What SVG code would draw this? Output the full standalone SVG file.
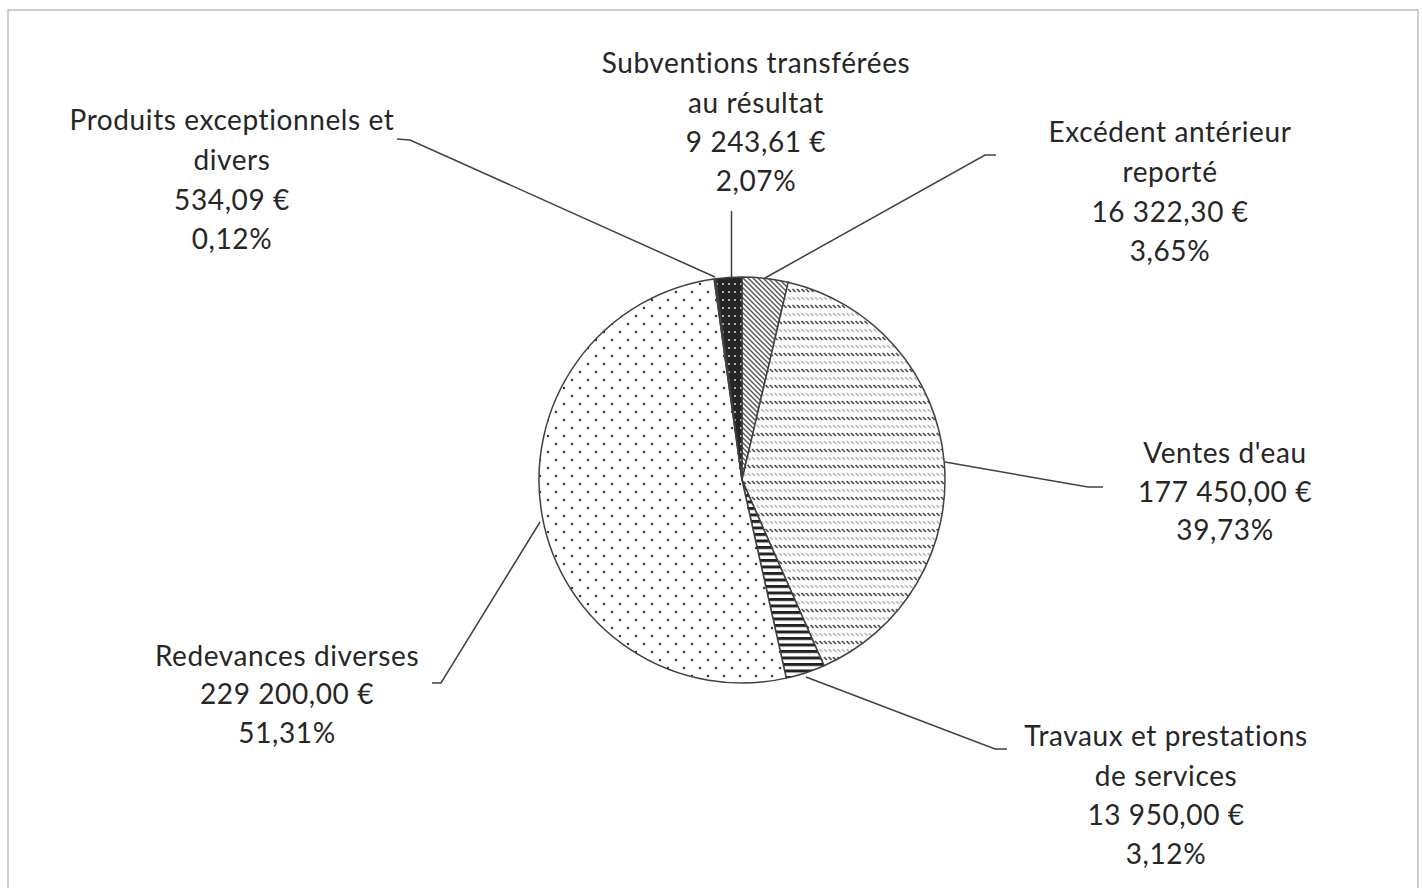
<svg xmlns="http://www.w3.org/2000/svg" width="1422" height="888" viewBox="0 0 1422 888">
  <style>
    .lbl { font-family: Lato, "Liberation Sans", sans-serif; font-size: 28px; letter-spacing: 0.6px; fill: #262626; text-anchor: middle; }
    .slice { stroke: #404040; stroke-width: 1.5; stroke-linejoin: round; }
    .leader { fill: none; stroke: #404040; stroke-width: 1.5; }
  </style>
  <defs>
    <pattern id="pDots" patternUnits="userSpaceOnUse" width="16" height="16">
      <rect width="16" height="16" fill="#ffffff"/>
      <circle cx="4" cy="4" r="1.2" fill="#333333"/>
      <circle cx="12" cy="12" r="1.2" fill="#333333"/>
    </pattern>
    <pattern id="pDarkDots" patternUnits="userSpaceOnUse" width="6" height="8">
      <rect width="6" height="8" fill="#262626"/>
      <circle cx="3" cy="4" r="1" fill="#dddddd"/>
    </pattern>
    <pattern id="pHatch" patternUnits="userSpaceOnUse" width="5" height="5">
      <rect width="5" height="5" fill="#ffffff"/>
      <path d="M-1,-1 L6,6 M-1,4 L1,6 M4,-1 L6,1" stroke="#555555" stroke-width="1.4"/>
    </pattern>
    <pattern id="pDashDiag" patternUnits="userSpaceOnUse" width="4.5" height="16">
      <rect width="4.5" height="16" fill="#ffffff"/>
      <path d="M0.5,1 L3.5,4" stroke="#333333" stroke-width="1.4"/>
      <path d="M0.5,9 L3.5,12" stroke="#b0b0b0" stroke-width="1.3"/>
    </pattern>
    <pattern id="pHoriz" patternUnits="userSpaceOnUse" width="8" height="6.5">
      <rect width="8" height="6.5" fill="#ffffff"/>
      <rect y="0" width="8" height="3" fill="#222222"/>
    </pattern>
  </defs>

  <rect x="0" y="0" width="1422" height="888" fill="#ffffff"/>
  <rect id="frame" x="8" y="10" width="1410" height="890" fill="none" stroke="#bfbfbf" stroke-width="1.5"/>

  <g id="slice-excedent">
    <path class="slice" fill="url(#pHatch)" d="M742,480 L742,277 A203,203 0 0 1 788.15,282.31 Z"/>
  </g>
  <g id="slice-ventes">
    <path class="slice" fill="url(#pDashDiag)" d="M742,480 L788.15,282.31 A203,203 0 0 1 824.02,665.69 Z"/>
  </g>
  <g id="slice-travaux">
    <path class="slice" fill="url(#pHoriz)" d="M742,480 L824.02,665.69 A203,203 0 0 1 786.28,678.11 Z"/>
  </g>
  <g id="slice-redevances">
    <path class="slice" fill="url(#pDots)" d="M742,480 L786.28,678.11 A203,203 0 1 1 714.15,278.92 Z"/>
  </g>
  <g id="slice-produits">
    <path class="slice" fill="#808080" d="M742,480 L714.15,278.92 A203,203 0 0 1 715.67,278.72 Z"/>
  </g>
  <g id="slice-subventions">
    <path class="slice" fill="url(#pDarkDots)" d="M742,480 L715.67,278.72 A203,203 0 0 1 742,277 Z"/>
  </g>

  <g id="connectors">
    <polyline class="leader" points="397,139 410,140 715,277"/>
    <polyline class="leader" points="731.5,211 731.5,277"/>
    <polyline class="leader" points="996,155 985,155 765,278"/>
    <polyline class="leader" points="1103,487 1088,487 945,462"/>
    <polyline class="leader" points="1007,749 995,749 806,677"/>
    <polyline class="leader" points="432,683 441,683 540,522"/>
  </g>

  <g id="label-produits">
    <text class="lbl" x="232" y="130">Produits exceptionnels et</text>
    <text class="lbl" x="232" y="170">divers</text>
    <text class="lbl" x="232" y="210">534,09 €</text>
    <text class="lbl" x="232" y="249">0,12%</text>
  </g>
  <g id="label-subventions">
    <text class="lbl" x="756" y="73">Subventions transférées</text>
    <text class="lbl" x="756" y="113">au résultat</text>
    <text class="lbl" x="756" y="152">9 243,61 €</text>
    <text class="lbl" x="756" y="191">2,07%</text>
  </g>
  <g id="label-excedent">
    <text class="lbl" x="1170" y="142">Excédent antérieur</text>
    <text class="lbl" x="1170" y="182">reporté</text>
    <text class="lbl" x="1170" y="222">16 322,30 €</text>
    <text class="lbl" x="1170" y="261">3,65%</text>
  </g>
  <g id="label-ventes">
    <text class="lbl" x="1225" y="463">Ventes d'eau</text>
    <text class="lbl" x="1225" y="502">177 450,00 €</text>
    <text class="lbl" x="1225" y="540">39,73%</text>
  </g>
  <g id="label-travaux">
    <text class="lbl" x="1166" y="746">Travaux et prestations</text>
    <text class="lbl" x="1166" y="786">de services</text>
    <text class="lbl" x="1166" y="825">13 950,00 €</text>
    <text class="lbl" x="1166" y="864">3,12%</text>
  </g>
  <g id="label-redevances">
    <text class="lbl" x="287" y="666">Redevances diverses</text>
    <text class="lbl" x="287" y="704">229 200,00 €</text>
    <text class="lbl" x="287" y="743">51,31%</text>
  </g>
</svg>
